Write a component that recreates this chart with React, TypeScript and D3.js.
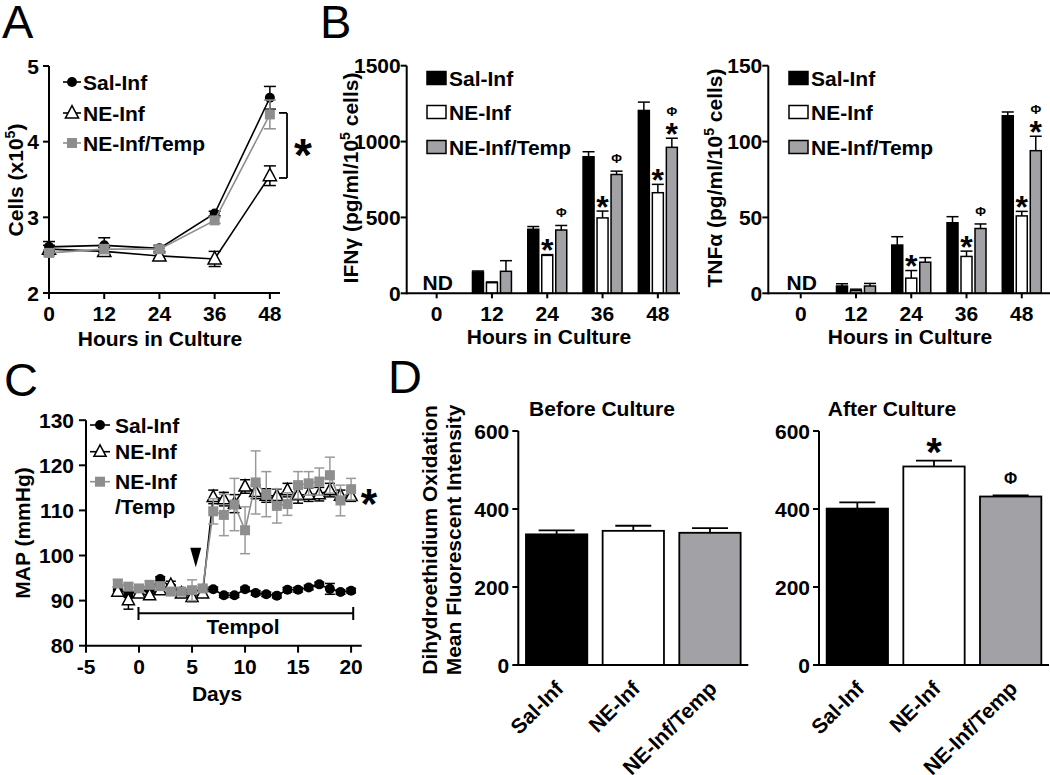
import React from 'react';
import * as d3 from 'd3';

const FONT = '"Liberation Sans", Arial, Helvetica, sans-serif';
const GRAY_BAR = '#a2a2a6';
const GRAY_MARK = '#8e8e8e';

// ---------- Panel A ----------
const hours = [0, 12, 24, 36, 48];
const cellsSal = [2.61, 2.63, 2.59, 3.05, 4.58];
const cellsSalErr = [0.07, 0.1, 0.04, 0.03, 0.15];
const cellsNE = [2.58, 2.55, 2.49, 2.45, 3.55];
const cellsNEErr = [0.05, 0.05, 0.04, 0.1, 0.13];
const cellsTemp = [2.53, 2.58, 2.58, 2.96, 4.36];
const cellsTempErr = [0.04, 0.06, 0.04, 0.04, 0.19];
const cellsTicks = [2, 3, 4, 5];

// ---------- Panel B ----------
const groups = ['Sal-Inf', 'NE-Inf', 'NE-Inf/Temp'];
const ifnSal = [null, 140, 422, 900, 1205];
const ifnSalErr = [null, 7, 18, 33, 55];
const ifnNE = [null, 70, 250, 497, 663];
const ifnNEErr = [null, 5, 5, 45, 55];
const ifnTemp = [null, 145, 417, 783, 962];
const ifnTempErr = [null, 70, 30, 22, 60];
const ifnTicks = [0, 500, 1000, 1500];
// [hour index, series index, marks stacked bottom->top]
const ifnMarks: [number, number, string[]][] = [
  [2, 1, ['*']], [3, 1, ['*']], [4, 1, ['*']],
  [2, 2, ['Φ']], [3, 2, ['Φ']], [4, 2, ['*', 'Φ']],
];
const tnfSal = [null, 4.8, 31.8, 46.5, 117];
const tnfSalErr = [null, 1.5, 5.5, 4, 2.5];
const tnfNE = [null, 1.7, 10, 24.3, 51];
const tnfNEErr = [null, 1, 5, 3.5, 3];
const tnfTemp = [null, 4.8, 20.5, 42.7, 94];
const tnfTempErr = [null, 1.7, 3, 3, 9.5];
const tnfTicks = [0, 50, 100, 150];
const tnfMarks: [number, number, string[]][] = [
  [2, 1, ['*']], [3, 1, ['*']], [4, 1, ['*']],
  [3, 2, ['Φ']], [4, 2, ['*', 'Φ']],
];

// ---------- Panel C ----------
const days = [-2, -1, 0, 1, 2, 3, 4, 5, 6, 7, 8, 9, 10, 11, 12, 13, 14, 15, 16, 17, 18, 19, 20];
const mapSal = [92.5, 91.5, 92, 92.5, 94.8, 93, 92, 92, 92.5, 92.5, 91.2, 91.2, 92.5, 91.7, 91.4, 91.1, 92.4, 92.4, 92.9, 93.6, 92.6, 91.9, 92.2];
const mapSalErr = [0.5, 0.6, 0.5, 0.5, 0.5, 0.5, 0.5, 0.5, 0.5, 0.5, 0.5, 0.5, 0.5, 0.5, 0.5, 0.5, 0.5, 0.5, 0.5, 0.5, 1.2, 0.5, 0.5];
const mapNE = [92.0, 90.1, 91.6, 91.2, 92.3, 93.5, 91.6, 90.8, 91.6, 113.0, 112.5, 111.5, 115.3, 114.1, 113.3, 113.2, 114.5, 113.4, 113.5, 113.6, 114.5, 113.3, 113.2];
const mapNEErr = [1, 2, 0.8, 0.8, 0.8, 0.8, 0.8, 1, 0.8, 1.5, 1.5, 2, 1.5, 1.5, 1.5, 1.5, 1.5, 1.8, 1.5, 1.5, 1.5, 1.2, 1.2];
const mapTemp = [93.8, 93.1, 92.7, 93.5, 93.2, 92.0, 92.0, 92.3, 92.7, 109.8, 109.0, 111.3, 105.6, 116.2, 113.6, 111.0, 111.4, 115.6, 116.0, 116.4, 117.8, 112.2, 114.7];
const mapTempErr = [0.8, 0.8, 0.8, 0.8, 0.8, 0.8, 0.8, 2.3, 0.8, 2.8, 4.6, 5.8, 5.2, 7, 5, 3.8, 2.5, 3, 2.6, 3, 4, 3.4, 2.4];
const mapYTicks = [80, 90, 100, 110, 120, 130];
const mapXTicks = [-5, 0, 5, 10, 15, 20];
const tempolRange = [-0.05, 20.2];
const arrowDay = 5.35;
const arrowRange = [101.7, 97.4];

// ---------- Panel D ----------
const dheBefore = [335, 344, 339];
const dheBeforeErr = [10, 13, 12];
const dheAfter = [401, 509, 432];
const dheAfterErr = [16, 15, 3];
const dheTicks = [0, 200, 400, 600];

const fills = ['#000', '#fff', GRAY_BAR];

function Star({ x, y, size }: { x: number; y: number; size: number }) {
  return <text x={x} y={y + 0.547 * size} textAnchor="middle" fontSize={size} fontWeight="bold">*</text>;
}
function Phi({ x, y, size }: { x: number; y: number; size: number }) {
  return <text x={x} y={y + 0.36 * size} textAnchor="middle" fontSize={size} fontWeight="bold">Φ</text>;
}

function triPath(cx: number, cy: number, s: number) {
  return `M${cx},${cy - s * 0.62}L${cx + s * 0.55},${cy + s * 0.42}L${cx - s * 0.55},${cy + s * 0.42}Z`;
}

function Marker({ kind, x, y, s }: { kind: number; x: number; y: number; s: number }) {
  if (kind === 0) return <circle cx={x} cy={y} r={s * 0.5} fill="#000" />;
  if (kind === 1) return <path d={triPath(x, y, s)} fill="#fff" stroke="#000" strokeWidth={1.5} />;
  return <rect x={x - s * 0.5} y={y - s * 0.5} width={s} height={s} fill={GRAY_MARK} />;
}

function RotTitle({ x, y, children }: { x: number; y: number; children: any }) {
  return (
    <text transform={`translate(${x},${y}) rotate(-90)`} dy="0.35em" textAnchor="middle" fontSize={21} fontWeight="bold">
      {children}
    </text>
  );
}

function PanelA() {
  const x = d3.scaleLinear().domain([0, 50.2]).range([49, 280]);
  const y = d3.scaleLinear().domain([2, 5]).range([293, 66]);
  const series = [
    { v: cellsNE, e: cellsNEErr, kind: 1, color: '#000' },
    { v: cellsSal, e: cellsSalErr, kind: 0, color: '#000' },
    { v: cellsTemp, e: cellsTempErr, kind: 2, color: GRAY_MARK },
  ];
  const line = d3.line<number>().x((_, i) => x(hours[i])).y((d) => y(d));
  const legend = [
    { label: 'Sal-Inf', kind: 0, color: '#000', ly: 82 },
    { label: 'NE-Inf', kind: 1, color: '#000', ly: 113 },
    { label: 'NE-Inf/Temp', kind: 2, color: GRAY_MARK, ly: 143 },
  ];
  const x0 = x.range()[0];
  const y0 = y.range()[0];
  return (
    <g>
      <text x={2} y={38} fontSize={47}>A</text>
      <line x1={x0} x2={x0} y1={y(5)} y2={y0 + 1} stroke="#000" strokeWidth={2} />
      <line x1={x0} x2={280} y1={y0} y2={y0} stroke="#000" strokeWidth={2} />
      {cellsTicks.map((t) => (
        <g key={t}>
          <line x1={x0 - 6} x2={x0} y1={y(t)} y2={y(t)} stroke="#000" strokeWidth={2} />
          <text x={x0 - 10} y={y(t) + 7.5} textAnchor="end" fontSize={21} fontWeight="bold">{t}</text>
        </g>
      ))}
      {hours.map((h) => (
        <g key={h}>
          <line x1={x(h)} x2={x(h)} y1={y0} y2={y0 + 6} stroke="#000" strokeWidth={2} />
          <text x={x(h)} y={321} textAnchor="middle" fontSize={21} fontWeight="bold">{h}</text>
        </g>
      ))}
      <text x={160} y={345.5} textAnchor="middle" fontSize={21} fontWeight="bold">Hours in Culture</text>
      <RotTitle x={16} y={180}>
        Cells (x10<tspan dy={-8} fontSize={14}>5</tspan><tspan dy={8}>)</tspan>
      </RotTitle>
      {series.map((s, si) => (
        <g key={si}>
          <path d={line(s.v) || ''} fill="none" stroke={s.color} strokeWidth={1.6} />
          {s.v.map((v, i) => (
            <g key={i} stroke={s.color} strokeWidth={1.5}>
              <line x1={x(hours[i])} x2={x(hours[i])} y1={y(v - s.e[i])} y2={y(v + s.e[i])} />
              <line x1={x(hours[i]) - 6} x2={x(hours[i]) + 6} y1={y(v + s.e[i])} y2={y(v + s.e[i])} />
              <line x1={x(hours[i]) - 6} x2={x(hours[i]) + 6} y1={y(v - s.e[i])} y2={y(v - s.e[i])} />
            </g>
          ))}
          {s.v.map((v, i) => (
            <Marker key={'m' + i} kind={s.kind} x={x(hours[i])} y={y(v)} s={s.kind === 1 ? 12 : 10} />
          ))}
        </g>
      ))}
      {/* significance bracket */}
      <g stroke="#000" strokeWidth={1.8}>
        <line x1={287} x2={287} y1={y(4.38)} y2={y(3.52)} />
        <line x1={279} x2={287} y1={y(4.38)} y2={y(4.38)} />
        <line x1={279} x2={287} y1={y(3.52)} y2={y(3.52)} />
      </g>
      <Star x={303} y={y(3.95)} size={46} />
      {legend.map((l) => (
        <g key={l.label}>
          <line x1={63} x2={81} y1={l.ly} y2={l.ly} stroke={l.color} strokeWidth={1.6} />
          <Marker kind={l.kind} x={72} y={l.ly} s={l.kind === 1 ? 12 : 10} />
          <text x={83} y={l.ly + 7.5} fontSize={21} fontWeight="bold">{l.label}</text>
        </g>
      ))}
    </g>
  );
}

function BarPanel(props: {
  yMax: number; ticks: number[]; axisX: number; axisEnd: number; range: [number, number];
  vals: (number | null)[][]; errs: (number | null)[][]; marks: [number, number, string[]][];
  legendX: number; titleX: number; xTitleX: number; title: any;
}) {
  const { yMax, ticks, axisX, axisEnd, range, vals, errs, marks, legendX, titleX, xTitleX, title } = props;
  const y = d3.scaleLinear().domain([0, yMax]).range([293.3, 65.7]);
  const gx = d3.scaleBand().domain(hours.map(String)).range(range);
  const sx = d3.scaleBand().domain(groups).range([-19.5, 19.5]).paddingInner(3 / 14);
  const y0 = y(0);
  const cx = (i: number) => (gx(String(hours[i])) as number) + gx.bandwidth() / 2;
  const bx = (i: number, s: number) => cx(i) + (sx(groups[s]) as number);
  const legendRows = [78, 112, 147];
  return (
    <g>
      {vals.map((sv, s) =>
        sv.map((v, i) => {
          if (v == null) return null;
          const e = errs[s][i] as number;
          const left = bx(i, s);
          const mid = left + sx.bandwidth() / 2;
          return (
            <g key={s + '-' + i}>
              <line x1={mid} x2={mid} y1={y(v)} y2={y(v + e)} stroke="#000" strokeWidth={1.5} />
              <line x1={mid - 6} x2={mid + 6} y1={y(v + e)} y2={y(v + e)} stroke="#000" strokeWidth={1.5} />
              <rect x={left} y={y(v)} width={sx.bandwidth()} height={y0 - y(v)} fill={fills[s]} stroke="#000" strokeWidth={1.5} />
            </g>
          );
        })
      )}
      {marks.map(([i, s, list], k) => {
        const v = vals[s][i] as number;
        const e = errs[s][i] as number;
        const mid = bx(i, s) + sx.bandwidth() / 2;
        let cy = y(v + e) - 11;
        return (
          <g key={'mk' + k}>
            {list.map((m, j) => {
              const el = m === '*' ? <Star key={j} x={mid} y={cy} size={32} /> : <Phi key={j} x={mid} y={cy - 2} size={13} />;
              cy -= 14;
              return el;
            })}
          </g>
        );
      })}
      <line x1={axisX} x2={axisX} y1={y(yMax)} y2={y0 + 1} stroke="#000" strokeWidth={2} />
      <line x1={axisX} x2={axisEnd} y1={y0} y2={y0} stroke="#000" strokeWidth={2} />
      {ticks.map((t) => (
        <g key={t}>
          <line x1={axisX - 6} x2={axisX} y1={y(t)} y2={y(t)} stroke="#000" strokeWidth={2} />
          <text x={axisX - 6} y={y(t) + 7.5} textAnchor="end" fontSize={21} fontWeight="bold">{t}</text>
        </g>
      ))}
      {hours.map((h, i) => (
        <g key={h}>
          <line x1={cx(i)} x2={cx(i)} y1={y0} y2={y0 + 5} stroke="#000" strokeWidth={2} />
          <text x={cx(i)} y={321} textAnchor="middle" fontSize={21} fontWeight="bold">{h}</text>
        </g>
      ))}
      <text x={cx(0) + 1} y={289.5} textAnchor="middle" fontSize={21} fontWeight="bold">ND</text>
      <text x={xTitleX} y={344} textAnchor="middle" fontSize={21} fontWeight="bold">Hours in Culture</text>
      <RotTitle x={titleX} y={178}>{title}</RotTitle>
      {groups.map((g, s) => (
        <g key={g}>
          <rect x={legendX} y={legendRows[s] - 6.5} width={19} height={13} fill={fills[s]} stroke="#000" strokeWidth={1.5} />
          <text x={legendX + 22} y={legendRows[s] + 7.5} fontSize={21} fontWeight="bold">{g}</text>
        </g>
      ))}
    </g>
  );
}

function PanelC() {
  const x = d3.scaleLinear().domain([-5, 21]).range([86, 361.7]);
  const y = d3.scaleLinear().domain([80, 130]).range([645.7, 420.2]);
  const y0 = y(80);
  const series = [
    { v: mapSal, e: mapSalErr, kind: 0, color: '#000' },
    { v: mapNE, e: mapNEErr, kind: 1, color: '#000' },
    { v: mapTemp, e: mapTempErr, kind: 2, color: GRAY_MARK },
  ];
  const line = d3.line<number>().x((_, i) => x(days[i])).y((d) => y(d));
  const legend = [
    { label: 'Sal-Inf', kind: 0, color: '#000', ly: 425 },
    { label: 'NE-Inf', kind: 1, color: '#000', ly: 451.7 },
    { label: 'NE-Inf', kind: 2, color: GRAY_MARK, ly: 481.7 },
  ];
  const ax = x(arrowDay);
  return (
    <g>
      <text x={4} y={396} fontSize={47}>C</text>
      <line x1={x(-5)} x2={x(-5)} y1={y(130)} y2={y0 + 1} stroke="#000" strokeWidth={2} />
      <line x1={x(-5)} x2={361.7} y1={y0} y2={y0} stroke="#000" strokeWidth={2} />
      {mapYTicks.map((t) => (
        <g key={t}>
          <line x1={x(-5) - 7} x2={x(-5)} y1={y(t)} y2={y(t)} stroke="#000" strokeWidth={2} />
          <text x={x(-5) - 12} y={y(t) + 7.5} textAnchor="end" fontSize={21} fontWeight="bold">{t}</text>
        </g>
      ))}
      {mapXTicks.map((t) => (
        <g key={t}>
          <line x1={x(t)} x2={x(t)} y1={y0} y2={y0 + 7} stroke="#000" strokeWidth={2} />
          <text x={x(t)} y={674} textAnchor="middle" fontSize={21} fontWeight="bold">{t}</text>
        </g>
      ))}
      <text x={217} y={700.5} textAnchor="middle" fontSize={21} fontWeight="bold">Days</text>
      <RotTitle x={23} y={533}>MAP (mmHg)</RotTitle>
      {series.map((s, si) => (
        <g key={si}>
          <path d={line(s.v) || ''} fill="none" stroke={s.color} strokeWidth={1.6} />
          {s.v.map((v, i) => (
            <g key={i} stroke={s.color === '#000' ? '#000' : '#9a9a9a'} strokeWidth={1.5}>
              <line x1={x(days[i])} x2={x(days[i])} y1={y(v - s.e[i])} y2={y(v + s.e[i])} />
              <line x1={x(days[i]) - 5} x2={x(days[i]) + 5} y1={y(v + s.e[i])} y2={y(v + s.e[i])} />
              <line x1={x(days[i]) - 5} x2={x(days[i]) + 5} y1={y(v - s.e[i])} y2={y(v - s.e[i])} />
            </g>
          ))}
          {s.v.map((v, i) => (
            <Marker key={'m' + i} kind={s.kind} x={x(days[i])} y={y(v)} s={s.kind === 1 ? 11 : 10} />
          ))}
        </g>
      ))}
      <path d={`M${ax - 5.5},${y(arrowRange[0])}L${ax + 5.5},${y(arrowRange[0])}L${ax},${y(arrowRange[1])}Z`} fill="#000" />
      <g stroke="#000" strokeWidth={2}>
        <line x1={x(tempolRange[0])} x2={x(tempolRange[1])} y1={613.3} y2={613.3} />
        <line x1={x(tempolRange[0])} x2={x(tempolRange[0])} y1={607} y2={620} />
        <line x1={x(tempolRange[1])} x2={x(tempolRange[1])} y1={607} y2={620} />
      </g>
      <text x={243} y={634} textAnchor="middle" fontSize={21} fontWeight="bold">Tempol</text>
      <Star x={369} y={y(113.5)} size={42} />
      {legend.map((l) => (
        <g key={l.ly}>
          <line x1={90} x2={110} y1={l.ly} y2={l.ly} stroke={l.color} strokeWidth={1.6} />
          <Marker kind={l.kind} x={100} y={l.ly} s={l.kind === 1 ? 11 : 10} />
          <text x={115} y={l.ly + 7.5} fontSize={21} fontWeight="bold">{l.label}</text>
        </g>
      ))}
      <text x={115} y={514} fontSize={21} fontWeight="bold">/Temp</text>
    </g>
  );
}

function DPanel({ vals, errs, axisX, axisEnd, title, titleX, marks }: {
  vals: number[]; errs: number[]; axisX: number; axisEnd: number; title: string; titleX: number; marks: string[];
}) {
  const y = d3.scaleLinear().domain([0, 600]).range([665, 431]);
  const x = d3.scaleBand().domain(groups).range([axisX, axisEnd]).paddingInner(0.2).paddingOuter(0.1);
  const y0 = y(0);
  return (
    <g>
      {vals.map((v, i) => {
        const left = x(groups[i]) as number;
        const mid = left + x.bandwidth() / 2;
        const e = errs[i];
        const m = marks[i];
        return (
          <g key={i}>
            <line x1={mid} x2={mid} y1={y(v)} y2={y(v + e)} stroke="#000" strokeWidth={1.8} />
            <line x1={mid - 18} x2={mid + 18} y1={y(v + e)} y2={y(v + e)} stroke="#000" strokeWidth={1.8} />
            <rect x={left} y={y(v)} width={x.bandwidth()} height={y0 - y(v)} fill={fills[i]} stroke="#000" strokeWidth={1.8} />
            {m === '*' && <Star x={mid} y={y(v + e) - 17} size={40} />}
            {m === 'Φ' && <Phi x={mid} y={y(v + e) - 17} size={16} />}
            <text transform={`translate(${mid + 8},${690}) rotate(-45)`} textAnchor="end" fontSize={21} fontWeight="bold">{groups[i]}</text>
          </g>
        );
      })}
      <line x1={axisX} x2={axisX} y1={y(600)} y2={y0 + 1} stroke="#000" strokeWidth={2} />
      <line x1={axisX} x2={axisEnd} y1={y0} y2={y0} stroke="#000" strokeWidth={2} />
      {dheTicks.map((t) => (
        <g key={t}>
          <line x1={axisX - 6} x2={axisX} y1={y(t)} y2={y(t)} stroke="#000" strokeWidth={2} />
          <text x={axisX - 9} y={y(t) + 7.5} textAnchor="end" fontSize={21} fontWeight="bold">{t}</text>
        </g>
      ))}
      <text x={titleX} y={416} textAnchor="middle" fontSize={21} fontWeight="bold">{title}</text>
    </g>
  );
}

export default function App() {
  return (
    <svg width={1050} height={775} style={{ position: 'absolute', left: 0, top: 0, background: '#fff' }} fontFamily={FONT}>
      <rect width={1050} height={775} fill="#fff" />
      <PanelA />
      <text x={320} y={38} fontSize={47}>B</text>
      <BarPanel
        yMax={1500} ticks={ifnTicks} axisX={406.7} axisEnd={680} range={[409, 685.5]}
        vals={[ifnSal, ifnNE, ifnTemp]} errs={[ifnSalErr, ifnNEErr, ifnTempErr]} marks={ifnMarks}
        legendX={427} titleX={351} xTitleX={549}
        title={<>IFNγ (pg/ml/10<tspan dy={-8} fontSize={14}>5</tspan><tspan dy={8}> cells)</tspan></>}
      />
      <BarPanel
        yMax={150} ticks={tnfTicks} axisX={768.3} axisEnd={1050} range={[773.1, 1049.4]}
        vals={[tnfSal, tnfNE, tnfTemp]} errs={[tnfSalErr, tnfNEErr, tnfTempErr]} marks={tnfMarks}
        legendX={789} titleX={715} xTitleX={910}
        title={<>TNFα (pg/ml/10<tspan dy={-8} fontSize={14}>5</tspan><tspan dy={8}> cells)</tspan></>}
      />
      <PanelC />
      <text x={388} y={393} fontSize={47}>D</text>
      <RotTitle x={430} y={540}>Dihydroethidium Oxidation</RotTitle>
      <RotTitle x={454} y={540}>Mean Fluorescent Intensity</RotTitle>
      <DPanel vals={dheBefore} errs={dheBeforeErr} axisX={518.3} axisEnd={748.3} title="Before Culture" titleX={602} marks={['', '', '']} />
      <DPanel vals={dheAfter} errs={dheAfterErr} axisX={819} axisEnd={1049} title="After Culture" titleX={892} marks={['', '*', 'Φ']} />
    </svg>
  );
}
